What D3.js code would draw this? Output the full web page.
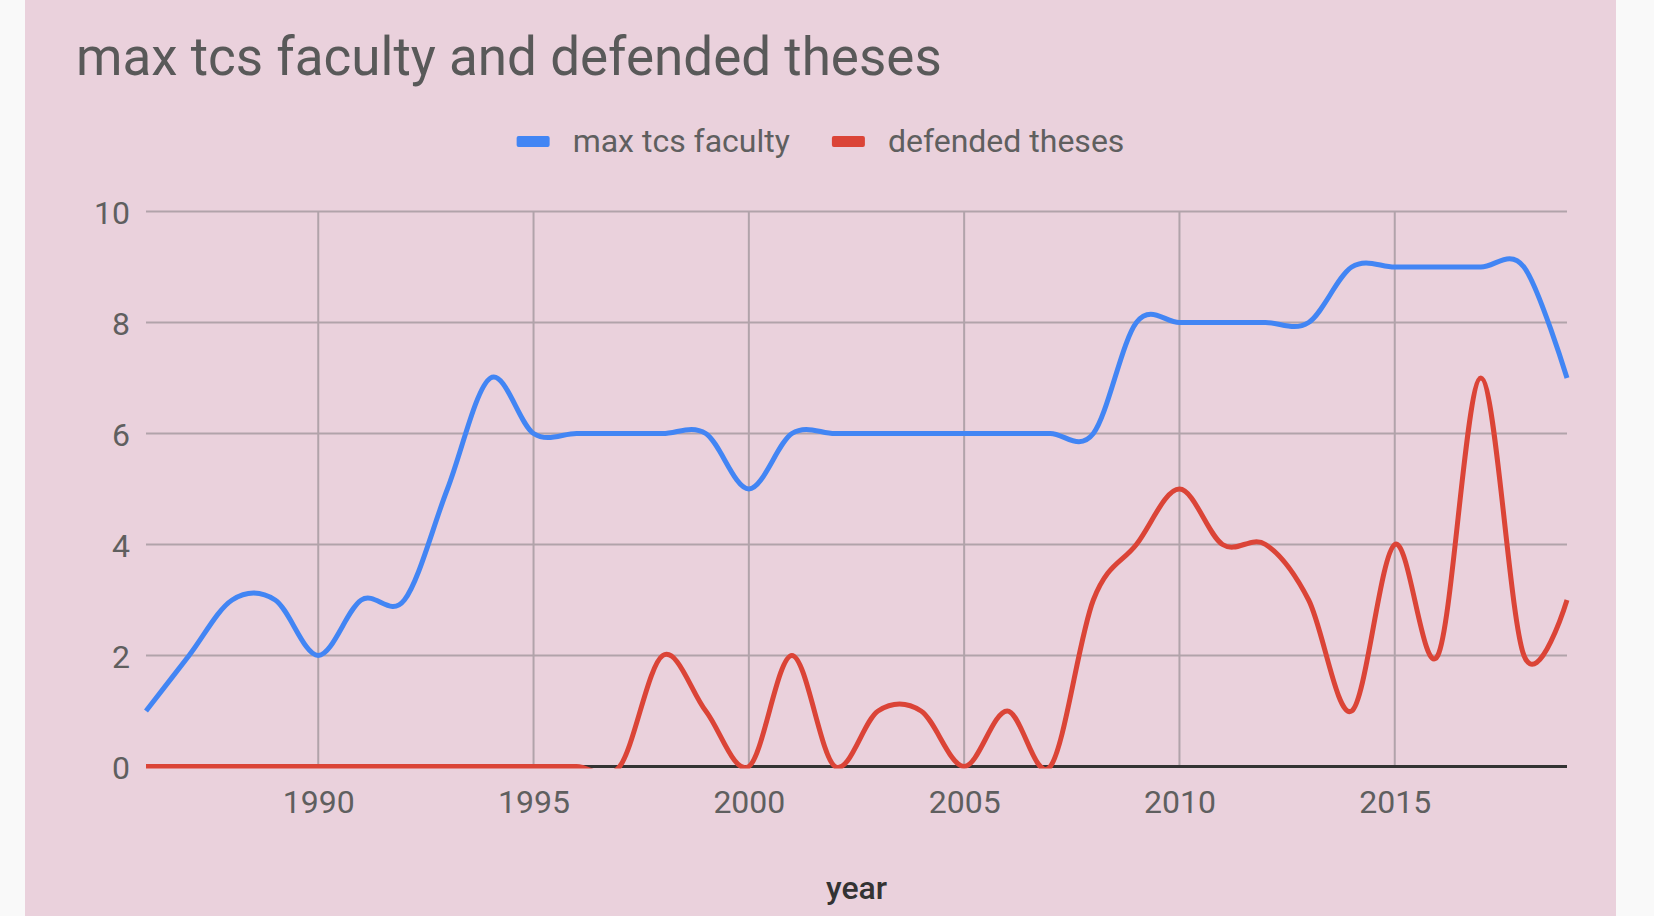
<!DOCTYPE html>
<html>
<head>
<meta charset="utf-8">
<script src="https://cdn.jsdelivr.net/npm/d3@7"></script>
<style>
  body { margin:0; background:#f9f9f9; }
  text { font-family: Roboto, "Noto Sans", sans-serif; }
</style>
</head>
<body>
<div id="chart"></div>
<script>
// data
const years = [1986,1987,1988,1989,1990,1991,1992,1993,1994,1995,1996,1997,1998,1999,2000,2001,2002,
  2003,2004,2005,2006,2007,2008,2009,2010,2011,2012,2013,2014,2015,2016,2017,2018,2019];
const maxFaculty = [1,2,3,3,2,3,3,5,7,6,6,6,6,6,5,6,6,6,6,6,6,6,6,8,8,8,8,8,9,9,9,9,9,7];
const defendedTheses = [0,0,0,0,0,0,0,0,0,0,0,0,2,1,0,2,0,1,1,0,1,0,3,4,5,4,4,3,1,4,2,7,2,3];
const seriesNames = ["max tcs faculty", "defended theses"];
const seriesColors = ["#4285f4", "#db4437"];
const xTicks = [1990,1995,2000,2005,2010,2015];
const yTicks = [0,2,4,6,8,10];

const svgWidth = 1654;
const svgHeight = 916;
const margin = {top:211.5, left:146, bottom:149.5, right:87};
const width = svgWidth - (margin.left + margin.right);
const height = svgHeight - (margin.top + margin.bottom);

var svg = d3.select("#chart").append("svg")
  .attr("width", svgWidth)
  .attr("height", svgHeight);

// pink chart background
svg.append("rect")
  .attr("x", 25).attr("y", 0)
  .attr("width", 1591).attr("height", svgHeight)
  .attr("fill", "#ead1dc");

// title
svg.append("text")
  .attr("x", 76).attr("y", 75)
  .style("font-size", "53px")
  .attr("fill", "#595959")
  .text("max tcs faculty and defended theses");

var xScale = d3.scaleLinear()
  .domain([years[0], years[years.length - 1]])
  .range([0, width]);

var yScale = d3.scaleLinear()
  .domain([0, 10])
  .range([height, 0]);

var g = svg.append("g")
  .attr("transform", "translate(" + margin.left + "," + margin.top + ")");

// gridlines
g.append("g")
  .selectAll("line")
  .data(yTicks.filter(d => d > 0))
  .enter()
  .append("line")
  .attr("x1", 0).attr("x2", width)
  .attr("y1", d => yScale(d)).attr("y2", d => yScale(d))
  .attr("stroke", "#b1a3aa")
  .attr("stroke-width", 2);

g.append("g")
  .selectAll("line")
  .data(xTicks)
  .enter()
  .append("line")
  .attr("x1", d => xScale(d)).attr("x2", d => xScale(d))
  .attr("y1", 0).attr("y2", height)
  .attr("stroke", "#b1a3aa")
  .attr("stroke-width", 2);

// axes (labels only)
var xAxis = g.append("g")
  .attr("transform", "translate(0," + height + ")")
  .call(d3.axisBottom(xScale).tickValues(xTicks).tickFormat(d3.format("d")).tickSize(0).tickPadding(0));
xAxis.select(".domain").remove();
xAxis.selectAll("text")
  .attr("y", 46)
  .attr("dy", null)
  .style("font-size", "32px")
  .attr("fill", "#5f5f5f");

var yAxis = g.append("g")
  .call(d3.axisLeft(yScale).tickValues(yTicks).tickSize(0).tickPadding(0));
yAxis.select(".domain").remove();
yAxis.selectAll("text")
  .attr("x", -16)
  .attr("dy", "0.36em")
  .style("font-size", "32px")
  .attr("fill", "#5f5f5f");

// zero baseline
g.append("line")
  .attr("x1", 0).attr("x2", width)
  .attr("y1", yScale(0)).attr("y2", yScale(0))
  .attr("stroke", "#333333")
  .attr("stroke-width", 3);

// clip lines to chart area
g.append("clipPath")
  .attr("id", "plotclip")
  .append("rect")
  .attr("x", -4).attr("y", -10)
  .attr("width", width + 8).attr("height", height + 12);

var line = d3.line()
  .x((d, i) => xScale(years[i]))
  .y(d => yScale(d))
  .curve(d3.curveCardinal.tension(0));

var lines = g.append("g").attr("clip-path", "url(#plotclip)");
[maxFaculty, defendedTheses].forEach(function(values, k) {
  lines.append("path")
    .datum(values)
    .attr("d", line)
    .attr("fill", "none")
    .attr("stroke", seriesColors[k])
    .attr("stroke-width", 5)
    .attr("stroke-linejoin", "round");
});

// x axis title
svg.append("text")
  .attr("x", margin.left + width / 2).attr("y", 899)
  .attr("text-anchor", "middle")
  .style("font-size", "32px")
  .style("font-weight", "500")
  .attr("fill", "#333333")
  .text("year");

// legend, centred on the chart background
var legend = svg.append("g");
var items = legend.selectAll("g")
  .data(seriesNames)
  .enter()
  .append("g");
items.append("rect")
  .attr("width", 33).attr("height", 11)
  .attr("y", 136)
  .attr("rx", 2)
  .attr("fill", (d, i) => seriesColors[i]);
items.append("text")
  .attr("x", 56).attr("y", 152)
  .style("font-size", "32px")
  .attr("fill", "#5f5f5f")
  .text(d => d);

var offsets = [];
var total = 0;
items.each(function(d, i) {
  var w = 56 + this.querySelector("text").getComputedTextLength();
  offsets.push(total);
  total += w + (i < seriesNames.length - 1 ? 42 : 0);
});
var startX = 820.5 - total / 2;
items.attr("transform", (d, i) => "translate(" + (startX + offsets[i]) + ",0)");
</script>
</body>
</html>
